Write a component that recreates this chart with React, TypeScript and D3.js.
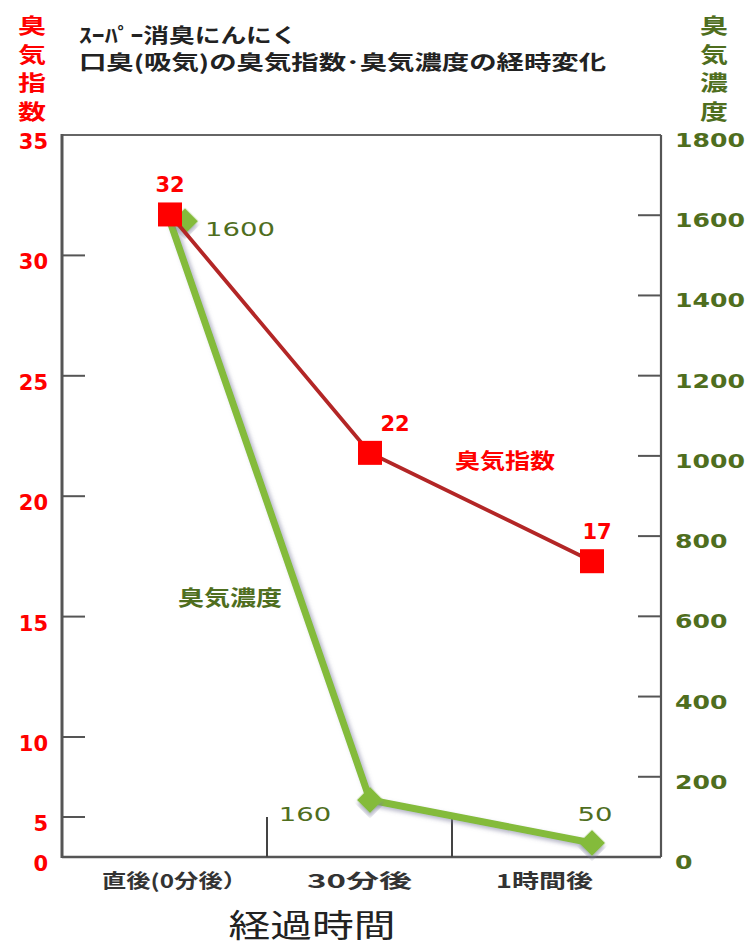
import React from "react";
import * as d3 from "d3";

const categories = ["直後(0分後）", "30分後", "1時間後"];
const minutes = [0, 30, 60];
const odorIndex = [31.7, 21.8, 17.3];
const odorConc = [1585, 142, 35];
const concLabels = ["1600", "160", "50"];
const leftTicks = [0, 5, 10, 15, 20, 25, 30, 35];
const rightTicks = [0, 200, 400, 600, 800, 1000, 1200, 1400, 1600, 1800];
const titleLines = ["ｽｰﾊﾟｰ消臭にんにく", "口臭(吸気)の臭気指数･臭気濃度の経時変化"];
const leftTitle = "臭気指数";
const rightTitle = "臭気濃度";
const xTitle = "経過時間";

const W = 753;
const H = 946;
const L = 62;
const R = 661;
const T = 135;
const B = 857;

const RED = "#ff0000";
const DARKRED = "#b32626";
const GREEN = "#84bb3a";
const OLIVE = "#4f6e1e";
const NUM = "'DejaVu Sans', sans-serif";
const JP = "'Noto Sans CJK JP', sans-serif";

export default function App() {
  const yL = d3.scaleLinear().domain([0, 5, 10, 35]).range([B, 817, 737, T]);
  const yR = d3.scaleLinear().domain([0, 1800]).range([B, T]);
  const x = d3.scaleLinear().domain(minutes).range([170, 370, 592]);
  const xBand = d3.scaleBand<string>().domain(categories).range([82, 637]);

  const redLine = d3
    .line<number>()
    .x((_, i) => x(minutes[i]))
    .y((d) => yL(d))(odorIndex) as string;
  const greenLine = d3
    .line<number>()
    .x((_, i) => x(minutes[i]))
    .y((d) => yR(d))(odorConc) as string;

  const diamond = d3.symbol().type(d3.symbolSquare).size(340)() as string;
  const fmt = d3.format(".0f");

  // label nudges (layout only)
  const redLabelDx = [0, 25, 5];
  const greenLabelDx = [70, -65, 3];
  const greenLabelDy = [15, 21, -22];
  const greenMarkerDx = [15, 0, 0];

  return (
    <svg
      width={W}
      height={H}
      style={{ position: "absolute", left: 0, top: 0, background: "#fff" }}
    >
      <defs>
        <filter id="sh" x="-20%" y="-20%" width="140%" height="140%">
          <feDropShadow dx="3" dy="3" stdDeviation="2" floodColor="#7a7a9a" floodOpacity="0.55" />
        </filter>
      </defs>
      <rect width={W} height={H} fill="#fff" />

      {/* titles */}
      {titleLines.map((t, i) => (
        <text
          key={t}
          x={79}
          y={43 + i * 27}
          fontFamily={JP}
          fontWeight="bold"
          fontSize={20}
          fill="#222"
          textLength={i === 0 ? 218 : 527}
          lengthAdjust="spacingAndGlyphs"
        >
          {t}
        </text>
      ))}

      {leftTitle.split("").map((c, i) => (
        <text
          key={"l" + i}
          x={32}
          y={33 + i * 28.5}
          textAnchor="middle"
          fontFamily={JP}
          fontWeight="bold"
          fontSize={21}
          fill={RED}
          textLength={28}
          lengthAdjust="spacingAndGlyphs"
        >
          {c}
        </text>
      ))}
      {rightTitle.split("").map((c, i) => (
        <text
          key={"r" + i}
          x={714}
          y={33 + i * 28.5}
          textAnchor="middle"
          fontFamily={JP}
          fontWeight="bold"
          fontSize={21}
          fill={OLIVE}
          textLength={28}
          lengthAdjust="spacingAndGlyphs"
        >
          {c}
        </text>
      ))}

      {/* frame */}
      <line x1={L} x2={R} y1={T} y2={T} stroke="#666" strokeWidth={2} />
      <line x1={R} x2={R} y1={T} y2={B} stroke="#555" strokeWidth={2.2} />
      <line x1={L} x2={L} y1={T - 1} y2={B + 1} stroke="#555" strokeWidth={3} />
      <line x1={L} x2={R} y1={B} y2={B} stroke="#555" strokeWidth={2.5} />

      {/* left ticks */}
      {leftTicks.map((v) => (
        <g key={"lt" + v}>
          {v !== 0 && v !== 35 && (
            <line x1={L} x2={L + 23} y1={yL(v)} y2={yL(v)} stroke="#555" strokeWidth={2} />
          )}
          <text
            x={48}
            y={yL(v) + 14}
            textAnchor="end"
            fontFamily={NUM}
            fontWeight="bold"
            fontSize={21}
            fill={RED}
          >
            {v}
          </text>
        </g>
      ))}

      {/* right ticks */}
      {rightTicks.map((v) => {
        const s = String(v);
        return (
          <g key={"rt" + v}>
            {v !== 0 && v !== 1800 && (
              <line x1={R - 23} x2={R} y1={yR(v)} y2={yR(v)} stroke="#555" strokeWidth={2} />
            )}
            <text
              x={675}
              y={yR(v) + 12}
              fontFamily={NUM}
              fontWeight="bold"
              fontSize={19}
              fill={OLIVE}
              textLength={17.5 * s.length}
              lengthAdjust="spacingAndGlyphs"
            >
              {s}
            </text>
          </g>
        );
      })}

      {/* category dividers */}
      {categories.slice(1).map((c) => (
        <line
          key={"d" + c}
          x1={xBand(c)!}
          x2={xBand(c)!}
          y1={817}
          y2={B}
          stroke="#444"
          strokeWidth={2}
        />
      ))}

      {/* category labels */}
      {categories.map((c, i) => (
        <text
          key={"c" + c}
          x={xBand(c)! + xBand.bandwidth() / 2}
          y={888}
          textAnchor="middle"
          fontFamily={JP}
          fontWeight="bold"
          fontSize={19}
          fill="#333"
          textLength={[145, 105, 97][i]}
          lengthAdjust="spacingAndGlyphs"
        >
          {c}
        </text>
      ))}

      <text
        x={312}
        y={937}
        textAnchor="middle"
        fontFamily={JP}
        fontSize={32}
        fill="#222"
        textLength={167}
        lengthAdjust="spacingAndGlyphs"
      >
        {xTitle}
      </text>

      {/* green series */}
      <path
        d={greenLine}
        fill="none"
        stroke={GREEN}
        strokeWidth={7}
        strokeLinejoin="round"
        filter="url(#sh)"
      />
      {odorConc.map((v, i) => (
        <path
          key={"gm" + i}
          d={diamond}
          transform={`translate(${x(minutes[i]) + greenMarkerDx[i]},${yR(v)}) rotate(45)`}
          fill={GREEN}
          filter="url(#sh)"
        />
      ))}

      {/* red series */}
      <path d={redLine} fill="none" stroke={DARKRED} strokeWidth={3.8} />
      {odorIndex.map((v, i) => (
        <rect
          key={"rm" + i}
          x={x(minutes[i]) - 12}
          y={yL(v) - 12}
          width={24}
          height={24}
          fill={RED}
        />
      ))}

      {/* data labels */}
      {odorIndex.map((v, i) => (
        <text
          key={"rl" + i}
          x={x(minutes[i]) + redLabelDx[i]}
          y={yL(v) - 22}
          textAnchor="middle"
          fontFamily={NUM}
          fontWeight="bold"
          fontSize={21}
          fill={RED}
        >
          {fmt(Math.round(v))}
        </text>
      ))}
      {odorConc.map((v, i) => (
        <text
          key={"gl" + i}
          x={x(minutes[i]) + greenLabelDx[i]}
          y={yR(v) + greenLabelDy[i]}
          textAnchor="middle"
          fontFamily={NUM}
          fontSize={20}
          fill={OLIVE}
          textLength={17.5 * concLabels[i].length}
          lengthAdjust="spacingAndGlyphs"
        >
          {concLabels[i]}
        </text>
      ))}

      {/* series name labels */}
      <text
        x={505}
        y={468}
        textAnchor="middle"
        fontFamily={JP}
        fontWeight="bold"
        fontSize={21}
        fill={RED}
        textLength={100}
        lengthAdjust="spacingAndGlyphs"
      >
        {leftTitle}
      </text>
      <text
        x={230}
        y={605}
        textAnchor="middle"
        fontFamily={JP}
        fontWeight="bold"
        fontSize={21}
        fill={OLIVE}
        textLength={104}
        lengthAdjust="spacingAndGlyphs"
      >
        {rightTitle}
      </text>
    </svg>
  );
}
